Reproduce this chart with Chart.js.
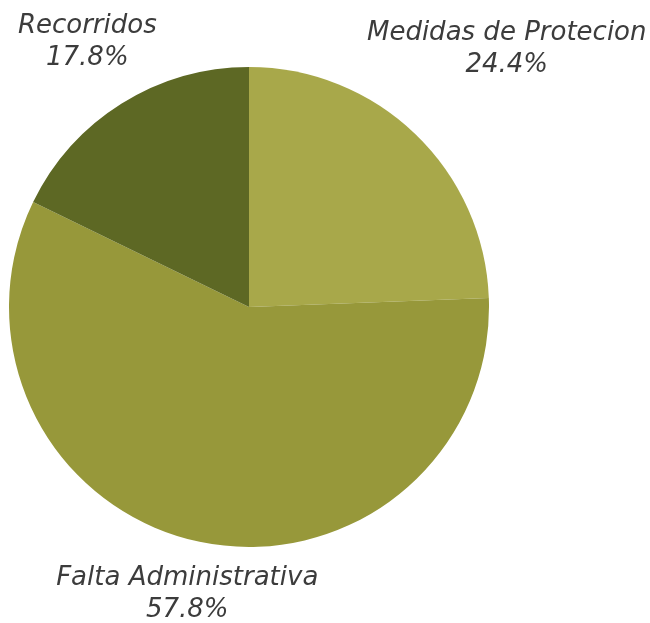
<!DOCTYPE html>
<html>
<head>
<meta charset="utf-8">
<script src="https://cdn.jsdelivr.net/npm/chart.js@4.4.0/dist/chart.umd.min.js"></script>
<style>
  html, body { margin: 0; padding: 0; background: #ffffff; }
  #wrap { width: 650px; height: 623px; position: relative; }
</style>
</head>
<body>
<div id="wrap"><canvas id="pieChart" width="650" height="623"></canvas></div>
<script>
// Categories and shares (percent), clockwise from 12 o'clock
const CATEGORIES = ['Medidas de Protecion', 'Falta Administrativa', 'Recorridos'];
const SHARES = [24.4, 57.8, 17.8];
const SLICE_COLORS = ['#a8a84a', '#97983a', '#5d6824'];

// Label distance from centre (multiple of radius) and small turn in degrees
const LABEL_DIST = [1.5, 1.25, 1.27];
const LABEL_TURN = [1.8, 0, 0];

// Draws "name / xx.x%" outside each slice, along its middle angle
const outsideLabels = {
  id: 'outsideLabels',
  afterDatasetsDraw(chart) {
    const ctx = chart.ctx;
    const meta = chart.getDatasetMeta(0);
    meta.data.forEach((arc, i) => {
      const mid = (arc.startAngle + arc.endAngle) / 2 + LABEL_TURN[i] * Math.PI / 180;
      const r = arc.outerRadius * LABEL_DIST[i];
      const x = arc.x + Math.cos(mid) * r;
      const y = arc.y + Math.sin(mid) * r;
      ctx.save();
      ctx.fillStyle = '#3c3c3c';
      ctx.font = 'italic 26px "DejaVu Sans", sans-serif';
      ctx.textAlign = 'center';
      ctx.textBaseline = 'alphabetic';
      ctx.fillText(CATEGORIES[i], x, y - 16);
      ctx.fillText(SHARES[i].toFixed(1) + '%', x, y + 16);
      ctx.restore();
    });
  },
};

new Chart(document.getElementById('pieChart'), {
  type: 'pie',
  data: {
    labels: CATEGORIES,
    datasets: [
      {
        data: SHARES,
        backgroundColor: SLICE_COLORS,
        borderWidth: 0,
      },
    ],
  },
  options: {
    responsive: false,
    animation: false,
    layout: {
      padding: { left: 9, right: 161, top: 67, bottom: 76 },
    },
    plugins: {
      legend: { display: false },
      tooltip: { enabled: false },
    },
  },
  plugins: [outsideLabels],
});
</script>
</body>
</html>
